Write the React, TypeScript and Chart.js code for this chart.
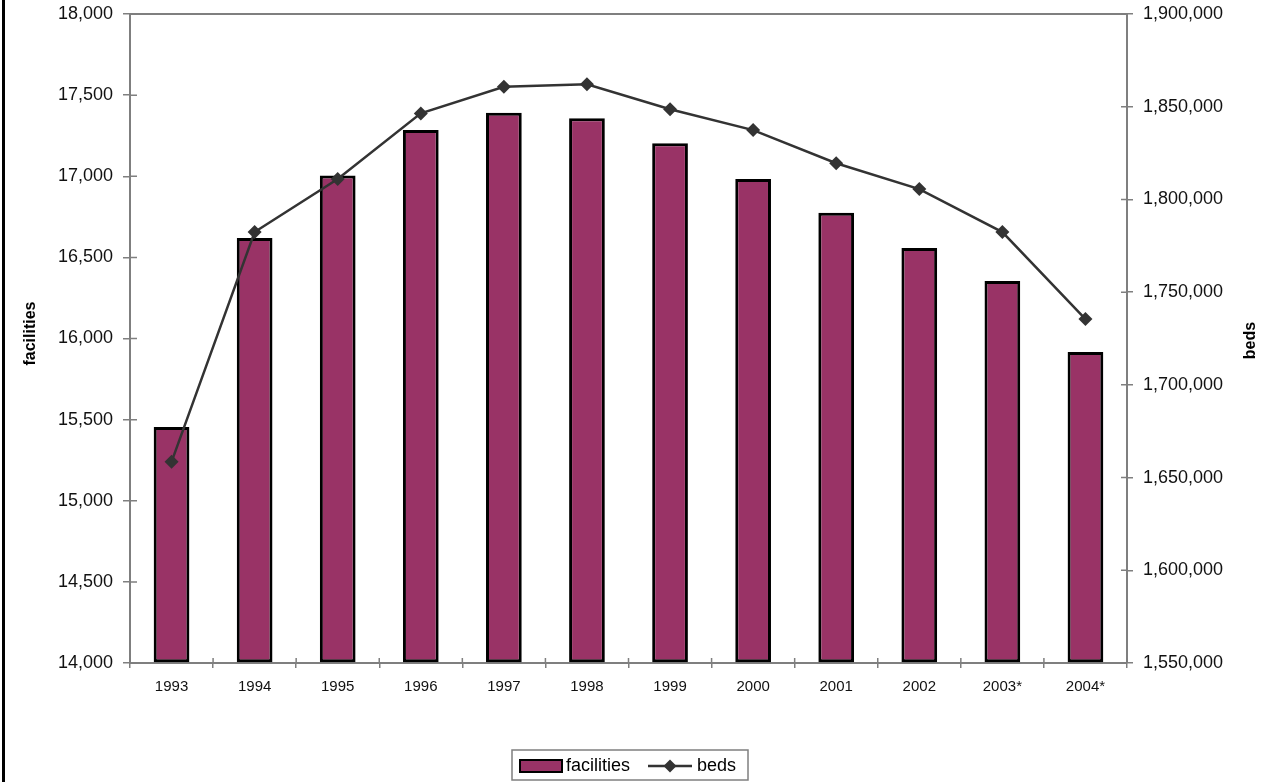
import { useEffect, useRef } from 'react';
import { Chart, registerables } from 'chart.js';

Chart.register(...registerables);

// Years on the category axis (asterisk marks projected years)
const years = ['1993', '1994', '1995', '1996', '1997', '1998', '1999', '2000', '2001', '2002', '2003*', '2004*'];

// Number of facilities per year (left axis)
const facilities = [15455, 16620, 17005, 17285, 17392, 17357, 17203, 16983, 16775, 16558, 16354, 15917];

// Number of beds per year (right axis)
const beds = [1658500, 1782400, 1811000, 1846400, 1860800, 1862100, 1848600, 1837400, 1819500, 1805600, 1782400, 1735500];

// Axis ranges
const facilitiesRange = [14000, 18000];
const facilitiesStep = 500;
const bedsRange = [1550000, 1900000];
const bedsStep = 50000;

const FONT = "'Liberation Sans', Arial, sans-serif";
const AXIS_GREY = '#7f7f7f';
const BAR_FILL = '#993366';
const LINE_COLOR = '#333333';

const fmt = (v: number) => Math.round(v).toLocaleString('en-US');

// Frame, inward tick marks, axis titles, outer border and legend box
const decorations = {
  id: 'decorations',
  beforeDatasetsDraw(chart: any) {
    const { ctx, chartArea } = chart;
    const { left, right, top, bottom } = chartArea;
    const y = chart.scales.y;
    const y1 = chart.scales.y1;
    const x = chart.scales.x;
    ctx.save();
    ctx.strokeStyle = AXIS_GREY;
    ctx.lineWidth = 2;
    ctx.beginPath();
    ctx.moveTo(left, top);
    ctx.lineTo(right, top);
    ctx.stroke();
    ctx.lineWidth = 1.5;
    ctx.beginPath();
    y.ticks.forEach((t: any) => {
      const py = y.getPixelForValue(t.value);
      ctx.moveTo(left, py);
      ctx.lineTo(left + 7, py);
    });
    y1.ticks.forEach((t: any) => {
      const py = y1.getPixelForValue(t.value);
      ctx.moveTo(right - 6, py);
      ctx.lineTo(right, py);
    });
    const n = years.length;
    for (let i = 0; i <= n; i++) {
      const px = x.left + (i * (x.right - x.left)) / n;
      ctx.moveTo(px, bottom - 5);
      ctx.lineTo(px, bottom);
    }
    ctx.stroke();
    ctx.restore();
  },
  afterDraw(chart: any) {
    const { ctx, chartArea } = chart;
    const midY = (chartArea.top + chartArea.bottom) / 2;
    ctx.save();

    // outer border on the left
    ctx.fillStyle = '#000';
    ctx.fillRect(2, 0, 3, chart.height);

    // axis titles
    ctx.font = `bold 16px ${FONT}`;
    ctx.fillStyle = '#000';
    ctx.textAlign = 'center';
    ctx.textBaseline = 'middle';
    ctx.save();
    ctx.translate(31, midY - 5);
    ctx.rotate(-Math.PI / 2);
    ctx.fillText('facilities', 0, 0);
    ctx.restore();
    ctx.save();
    ctx.translate(1251, midY + 2);
    ctx.rotate(-Math.PI / 2);
    ctx.fillText('beds', 0, 0);
    ctx.restore();

    // legend
    const bx = 512, by = 750, bw = 236, bh = 30;
    ctx.fillStyle = '#fff';
    ctx.fillRect(bx, by, bw, bh);
    ctx.strokeStyle = AXIS_GREY;
    ctx.lineWidth = 1.5;
    ctx.strokeRect(bx, by, bw, bh);
    const cy = by + bh / 2 + 1;
    ctx.fillStyle = BAR_FILL;
    ctx.fillRect(520, cy - 6, 42, 12);
    ctx.strokeStyle = '#000';
    ctx.lineWidth = 2;
    ctx.strokeRect(520, cy - 6, 42, 12);
    ctx.font = `18px ${FONT}`;
    ctx.fillStyle = '#000';
    ctx.textAlign = 'left';
    ctx.textBaseline = 'middle';
    ctx.fillText('facilities', 566, cy);
    ctx.strokeStyle = LINE_COLOR;
    ctx.lineWidth = 2.5;
    ctx.beginPath();
    ctx.moveTo(648, cy);
    ctx.lineTo(692, cy);
    ctx.stroke();
    ctx.fillStyle = LINE_COLOR;
    ctx.beginPath();
    ctx.moveTo(670, cy - 6.5);
    ctx.lineTo(676.5, cy);
    ctx.lineTo(670, cy + 6.5);
    ctx.lineTo(663.5, cy);
    ctx.closePath();
    ctx.fill();
    ctx.fillStyle = '#000';
    ctx.fillText('beds', 697, cy);
    ctx.restore();
  },
};

export default function App() {
  const canvasRef = useRef<HTMLCanvasElement | null>(null);

  useEffect(() => {
    const canvas = canvasRef.current;
    if (!canvas) return;
    Chart.defaults.font.family = FONT;
    const chart = new Chart(canvas, {
      type: 'bar',
      data: {
        labels: years,
        datasets: [
          {
            type: 'line',
            label: 'beds',
            data: beds,
            yAxisID: 'y1',
            borderColor: LINE_COLOR,
            borderWidth: 2.5,
            backgroundColor: LINE_COLOR,
            pointStyle: 'rectRot',
            pointRadius: 7,
            pointBorderWidth: 0,
            pointBackgroundColor: LINE_COLOR,
            tension: 0,
            order: 0,
          } as any,
          {
            type: 'bar',
            label: 'facilities',
            data: facilities,
            yAxisID: 'y',
            backgroundColor: BAR_FILL,
            borderColor: '#000',
            borderWidth: 3,
            borderSkipped: false,
            barPercentage: 0.43,
            categoryPercentage: 1,
            base: facilitiesRange[0],
            order: 1,
          } as any,
        ],
      },
      options: {
        animation: false,
        responsive: false,
        maintainAspectRatio: false,
        layout: { padding: { top: 14, left: 0, right: 0, bottom: 0 } },
        plugins: {
          legend: { display: false },
          tooltip: { enabled: false },
        },
        scales: {
          x: {
            grid: {
              offset: true,
              drawOnChartArea: false,
              drawTicks: true,
              tickLength: 5,
              color: AXIS_GREY,
              lineWidth: 1.5,
            },
            border: { color: AXIS_GREY, width: 2 },
            ticks: { color: '#111', font: { size: 15, family: FONT }, padding: 10, maxRotation: 0 },
            afterFit: (scale: any) => {
              scale.height = 119;
              scale.paddingLeft = 0;
              scale.paddingRight = 0;
            },
          },
          y: {
            position: 'left',
            min: facilitiesRange[0],
            max: facilitiesRange[1],
            grid: {
              drawOnChartArea: false,
              drawTicks: true,
              tickLength: 7,
              color: AXIS_GREY,
              lineWidth: 1.5,
            },
            border: { color: AXIS_GREY, width: 2 },
            ticks: {
              stepSize: facilitiesStep,
              color: '#111',
              font: { size: 18, family: FONT },
              padding: 10,
              callback: (v: any) => fmt(Number(v)),
            },
            afterFit: (scale: any) => {
              scale.width = 130;
              scale.paddingTop = 0;
              scale.paddingBottom = 0;
            },
          },
          y1: {
            position: 'right',
            min: bedsRange[0],
            max: bedsRange[1],
            grid: {
              drawOnChartArea: false,
              drawTicks: true,
              tickLength: 6,
              color: AXIS_GREY,
              lineWidth: 1.5,
            },
            border: { color: AXIS_GREY, width: 2 },
            ticks: {
              stepSize: bedsStep,
              color: '#111',
              font: { size: 18, family: FONT },
              padding: 10,
              callback: (v: any) => fmt(Number(v)),
            },
            afterFit: (scale: any) => {
              scale.width = 149;
              scale.paddingTop = 0;
              scale.paddingBottom = 0;
            },
          },
        },
      },
      plugins: [decorations],
    });
    return () => chart.destroy();
  }, []);

  return (
    <div style={{ position: 'absolute', left: 0, top: 0, width: 1276, height: 782, background: '#fff' }}>
      <canvas ref={canvasRef} width={1276} height={782} style={{ display: 'block', width: 1276, height: 782 }} />
    </div>
  );
}
